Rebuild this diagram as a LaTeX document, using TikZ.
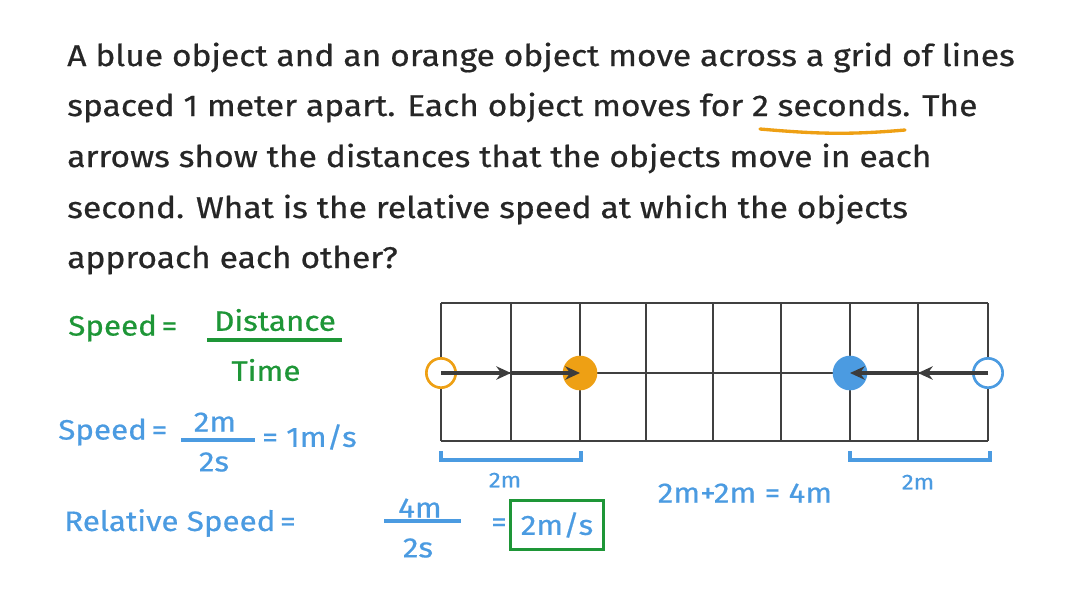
\documentclass[tikz,border=0pt]{standalone}
\usepackage{fontspec}
\setmainfont{Fira Sans}[FakeStretch=1.12,FakeBold=0.6]
\usetikzlibrary{arrows.meta}
\definecolor{gr}{RGB}{30,150,55}
\definecolor{bl}{RGB}{75,155,225}
\definecolor{org}{RGB}{238,160,20}
\definecolor{dk}{RGB}{60,60,60}
\begin{document}
\begin{tikzpicture}[x=0.75pt,y=-0.75pt,
  q/.style={anchor=base west,inner sep=0,font=\fontsize{22.5}{26}\selectfont,text=black!85},
  m/.style={inner sep=0,font=\fontsize{21}{24}\selectfont},
  gl/.style={draw=black!75,line width=1.2pt},
  mv/.style={draw=dk,line width=3pt,-{Stealth[length=11pt,width=10pt]}}]
\useasboundingbox (0,0) rectangle (1088,612);
% question
\node[q] (l1) at (67,66) {A blue object and an orange object move across a grid of lines};
\node[q] (l2) at (67,116) {spaced 1 meter apart.  Each object moves for 2 seconds. The};
\node[q] (l3) at (67,167) {arrows show the distances that the objects move in each};
\node[q] (l4) at (67,218) {second. What is the relative speed at which the objects};
\node[q] (l5) at (67,268) {approach each other?};
\draw[org,line width=2.5pt,line cap=round] (760,129) to[out=-5,in=185] (905,130);
% grid
\foreach \x in {441,511,580,646,713,781,850,918,988} \draw[gl] (\x,303) -- (\x,441);
\draw[gl] (441,303) -- (988,303);
\draw[gl] (441,373) -- (988,373);
\draw[gl] (441,441) -- (988,441);
\node[circle,draw=org,line width=2pt,fill=white,minimum size=22pt,inner sep=0] (o1) at (441,373) {};
\node[circle,fill=org,minimum size=26pt,inner sep=0] (o2) at (580,373) {};
\node[circle,fill=bl,minimum size=26pt,inner sep=0] (b1) at (850,373) {};
\node[circle,draw=bl,line width=2pt,fill=white,minimum size=22pt,inner sep=0] (b2) at (988,373) {};
\coordinate (om) at (511,373);
\coordinate (bm) at (918,373);
\draw[mv] (o1.center) -- (om);
\draw[mv] (om) -- (o2.center);
\draw[mv] (b2.center) -- (bm);
\draw[mv] (bm) -- (b1.center);
% brackets
\draw[bl,line width=3pt] (441,451) -- (441,460) -- (581,460) -- (581,451);
\draw[bl,line width=3pt] (850,451) -- (850,460) -- (990,460) -- (990,451);
\node[m,text=bl,font=\fontsize{16}{18}\selectfont] (d1) at (505,480) {2m};
\node[m,text=bl,font=\fontsize{16}{18}\selectfont] (d2) at (918,482) {2m};
% formulas
\node[m,text=gr,anchor=west] (s1) at (68,328) {Speed\,=};
\node[m,text=gr] (n1) at (275,320) {Distance};
\draw[gr,line width=2.5pt] (207,340) -- (342,340);
\node[m,text=gr] (dn1) at (266,370) {Time};
\node[m,text=bl,anchor=west] (s2) at (58,432) {Speed\,=};
\node[m,text=bl] (n2) at (215,422) {2m};
\draw[bl,line width=2.5pt] (181,440) -- (255,440);
\node[m,text=bl] (dn2) at (214,462) {2s};
\node[m,text=bl,anchor=west] (r2) at (262,437) {= 1m/s};
\node[m,text=bl,anchor=west] (s3) at (64,523) {Relative Speed\,=};
\node[m,text=bl] (n3) at (420,508) {4m};
\draw[bl,line width=2.5pt] (384,521) -- (461,521);
\node[m,text=bl] (dn3) at (418,548) {2s};
\node[m,text=bl] (eq) at (499,525) {=};
\node[m,text=bl,draw=gr,line width=2.5pt,minimum width=70pt,minimum height=37pt] (ans) at (557,525) {2m/s};
\node[m,text=bl] (sum) at (745,493) {2m+2m = 4m};
\end{tikzpicture}
\end{document}
